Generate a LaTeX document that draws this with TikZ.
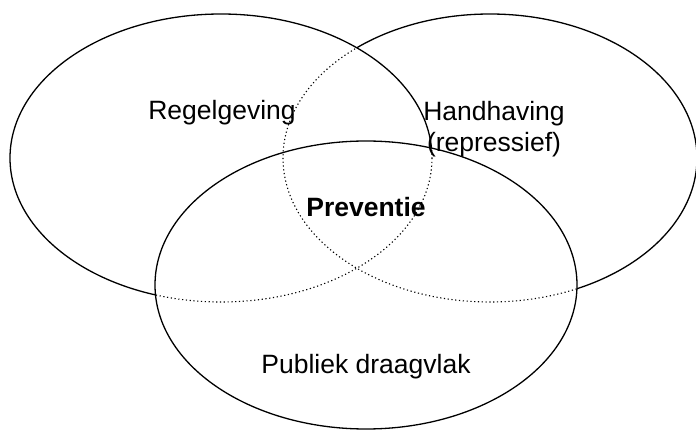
\documentclass[tikz,border=0pt]{standalone}
\usepackage{fontspec}
\setmainfont{Liberation Sans}
\newlength{\du}
\setlength{\du}{1pt}
\tikzset{
  rand/.style={line width=1.3\du, draw=black},
  verborgen/.style={line width=1.1\du, draw=black, dash pattern=on 1.2\du off 2.6\du},
  tekst/.style={font=\fontsize{26.5}{30}\selectfont, anchor=base}
}
\begin{document}
\begin{tikzpicture}
\pgftransformxscale{1.000000}
\pgftransformyscale{-1.000000}
\useasboundingbox (0\du,0\du) rectangle (696\du,430\du);
% handhaving (achter)
\draw[rand] (490\du,158\du) ellipse [x radius=207\du, y radius=144\du];
% regelgeving
\fill[white] (221\du,158\du) ellipse [x radius=211\du, y radius=144\du];
\draw[rand] (221\du,158\du) ellipse [x radius=211\du, y radius=144\du];
\begin{scope}
\clip (221\du,158\du) ellipse [x radius=211\du, y radius=144\du];
\draw[verborgen] (490\du,158\du) ellipse [x radius=207\du, y radius=144\du];
\end{scope}
% publiek draagvlak (voor)
\fill[white] (366\du,285\du) ellipse [x radius=211\du, y radius=144\du];
\begin{scope}
\clip (366\du,285\du) ellipse [x radius=211\du, y radius=144\du];
\draw[verborgen] (221\du,158\du) ellipse [x radius=211\du, y radius=144\du];
\draw[verborgen] (490\du,158\du) ellipse [x radius=207\du, y radius=144\du];
\end{scope}
\draw[rand] (366\du,285\du) ellipse [x radius=211\du, y radius=144\du];
% teksten
\node[tekst] (regel) at (222\du,120\du) {Regelgeving};
\node[tekst] (hand) at (494\du,121\du) {Handhaving};
\node[tekst] (repr) at (494\du,152\du) {(repressief)};
\node[tekst, font=\fontsize{26.5}{30}\selectfont\bfseries] (prev) at (366\du,217\du) {Preventie};
\node[tekst] (publ) at (366\du,373\du) {Publiek draagvlak};
\end{tikzpicture}
\end{document}
